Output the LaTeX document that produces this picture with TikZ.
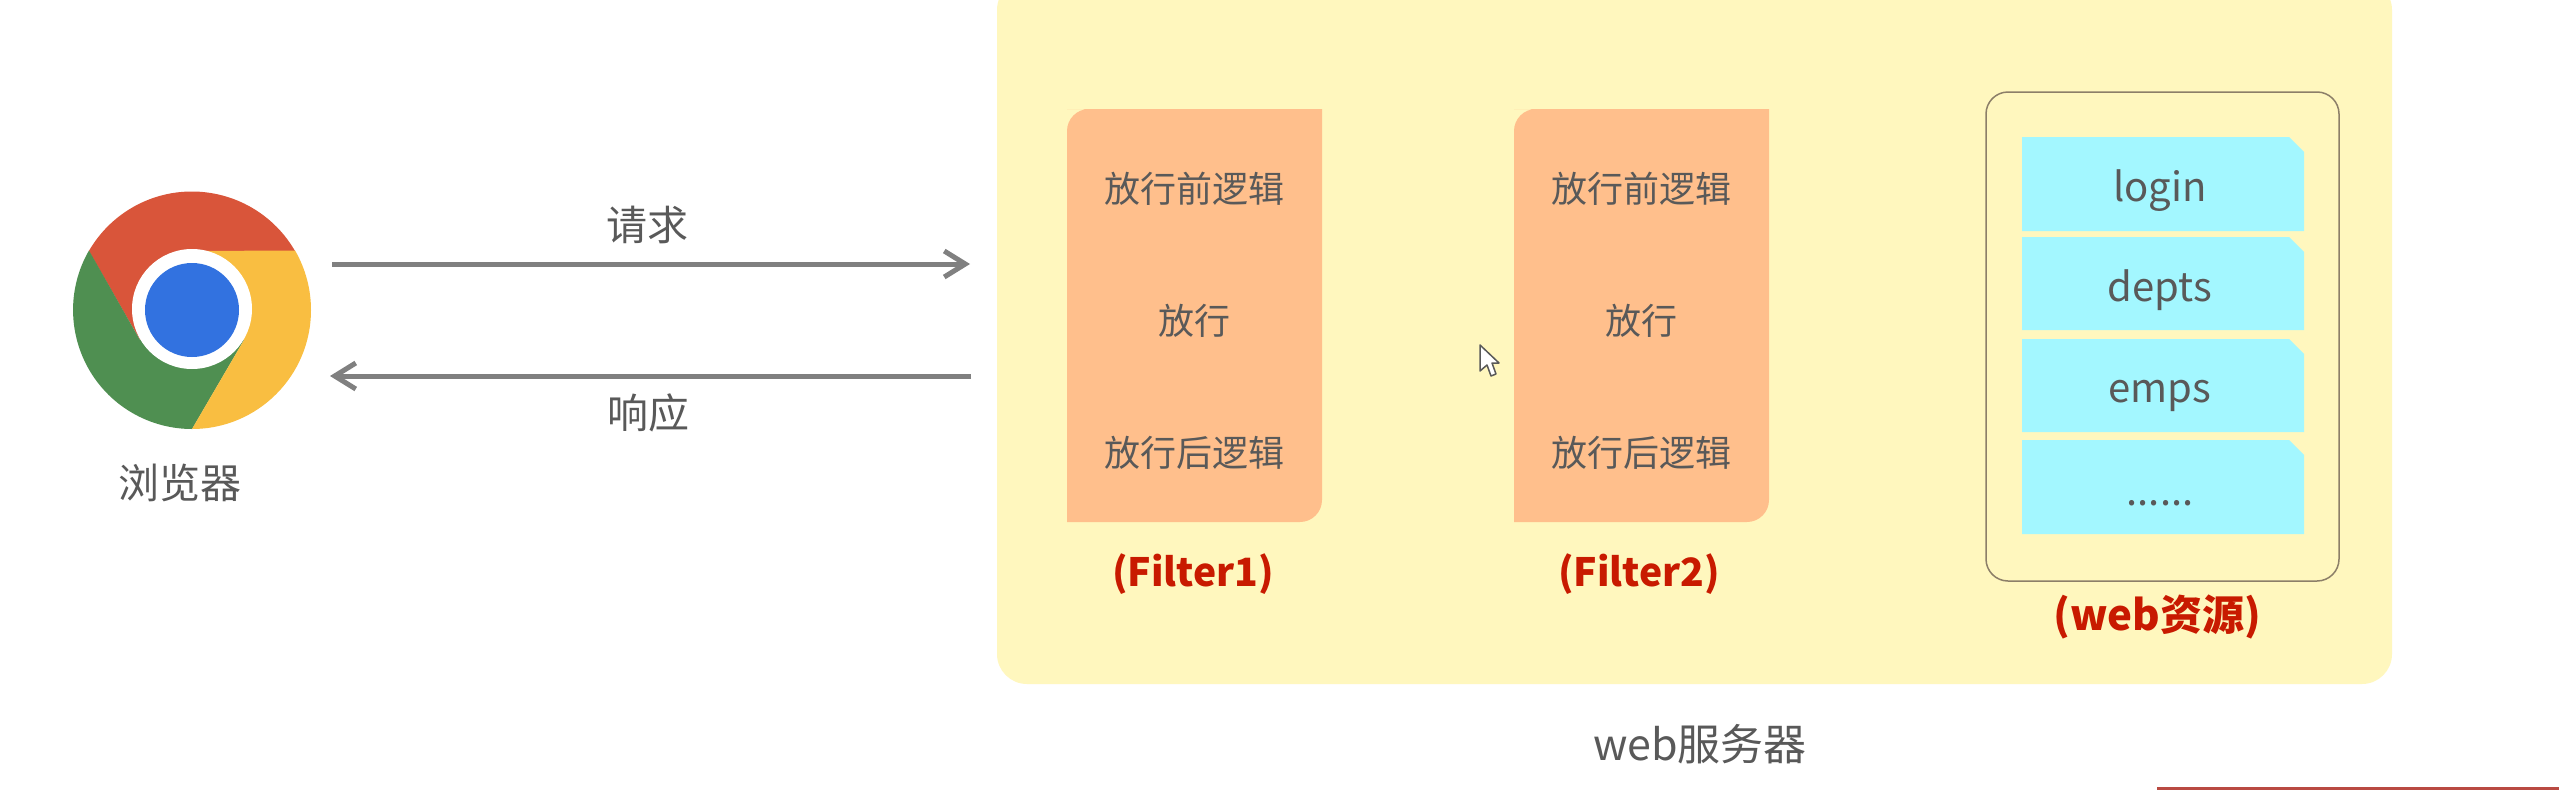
\documentclass[tikz,border=0pt]{standalone}
\usepackage{fontspec}
\setmainfont{Noto Sans CJK SC}
\usetikzlibrary{arrows.meta}
\definecolor{panel}{HTML}{FFF7BE}
\definecolor{filterfill}{HTML}{FFBF8C}
\definecolor{resfill}{HTML}{A3F7FF}
\definecolor{tagred}{HTML}{C81A00}
\definecolor{ink}{HTML}{595959}
\definecolor{boxline}{HTML}{8C7F68}
\definecolor{arrowgrey}{HTML}{808080}
\definecolor{barred}{HTML}{B94A42}
\definecolor{chromered}{HTML}{D9553A}
\definecolor{chromeyellow}{HTML}{F9BE41}
\definecolor{chromegreen}{HTML}{4F8F51}
\definecolor{chromeblue}{HTML}{3272E0}
\tikzset{
  x=1pt,y=-1pt,
  lbl/.style={inner sep=0pt,outer sep=0pt,text=ink,font=\fontsize{36}{40}\selectfont},
  biglbl/.style={lbl,font=\fontsize{41}{46}\selectfont},
  serverlbl/.style={lbl,font=\fontsize{43}{46}\selectfont},
  reslbl/.style={lbl,font=\fontsize{40}{46}\selectfont},
  tag/.style={inner sep=0pt,outer sep=0pt,text=tagred,font=\bfseries\fontsize{42}{46}\selectfont},
  filtertag/.style={tag,font=\bfseries\fontsize{39}{46}\selectfont},
  flow/.style={draw=arrowgrey,line width=5pt,-{Straight Barb[length=21pt,width=26pt,line width=5pt]}},
  filterbody/.style={fill=filterfill,draw=none},
  resfile/.style={fill=resfill,draw=none}
}
\newcommand{\filterbox}[2]{%
  \fill[filterbody] (#1,109) -- (#1+255,109) -- (#1+255,500) arc[start angle=0,end angle=90,radius=22]
    -- (#1,522) -- (#1,131) arc[start angle=180,end angle=270,radius=22] -- cycle;
  \node[lbl] (#2a) at (#1+127.5,189) {放行前逻辑};
  \node[lbl] (#2b) at (#1+127.5,321) {放行};
  \node[lbl] (#2c) at (#1+127.5,453) {放行后逻辑};
}
\newcommand{\resrect}[2]{%
  \fill[resfile] (2022,#1) -- (2289,#1) -- (2304,#1+15) -- (2304,#2) -- (2022,#2) -- cycle;
}
\begin{document}
\begin{tikzpicture}
\useasboundingbox (0,0) rectangle (2559,790);
\fill[white] (0,0) rectangle (2559,790);
% red bar
\fill[barred] (2157,787) rectangle (2559,790);
% server panel
\fill[panel,rounded corners=30pt] (997,-20) rectangle (2392,684);
% chrome logo
\fill[chromered] (192,310) -- (192,251) -- (295,251) arc[start angle=-30,end angle=-150,radius=119] -- (140,340) -- cycle;
\fill[chromegreen] (192,310) -- (140,340) -- (89,250.5) arc[start angle=-150,end angle=-270,radius=119] -- (244,340) -- cycle;
\fill[chromeyellow] (192,310) -- (244,340) -- (192,429) arc[start angle=-270,end angle=-390,radius=119] -- (192,251) -- cycle;
\fill[white] (192,309) circle[radius=60];
\fill[chromeblue] (192,310) circle[radius=47];
\node[biglbl] (browser) at (180,483) {浏览器};
% flows
\coordinate (reqa) at (332,264);
\coordinate (reqb) at (970,264);
\coordinate (resa) at (971,376);
\coordinate (resb) at (330,376);
\draw[flow] (reqa) -- (reqb);
\draw[flow] (resa) -- (resb);
\node[biglbl] (req) at (647,225) {请求};
\node[biglbl] (res) at (648,413) {响应};
% filters
\filterbox{1067}{fa}
\filterbox{1514}{fb}
\node[filtertag] (fatag) at (1193,574) {(Filter1)};
\node[filtertag] (fbtag) at (1639,574) {(Filter2)};
% cursor
\filldraw[fill=white,draw=ink,line width=1.5pt,line join=round]
  (1480,345) -- (1480,371) -- (1487,365) -- (1491,376) -- (1496,374) -- (1492,363) -- (1499,363) -- cycle;
% resources
\draw[boxline,line width=1.5pt,rounded corners=22pt] (1986,92) rectangle (2339,581);
\resrect{137}{231}
\resrect{237}{330}
\resrect{339}{432}
\resrect{440}{534}
\node[reslbl] (login) at (2160,191) {login};
\node[reslbl] (depts) at (2160,290) {depts};
\node[reslbl] (emps) at (2160,396) {emps};
\node[reslbl] (more) at (2160,503) {......};
\node[tag] (restag) at (2157,617) {(web资源)};
\node[serverlbl] (server) at (1700,744) {web服务器};
\end{tikzpicture}
\end{document}
